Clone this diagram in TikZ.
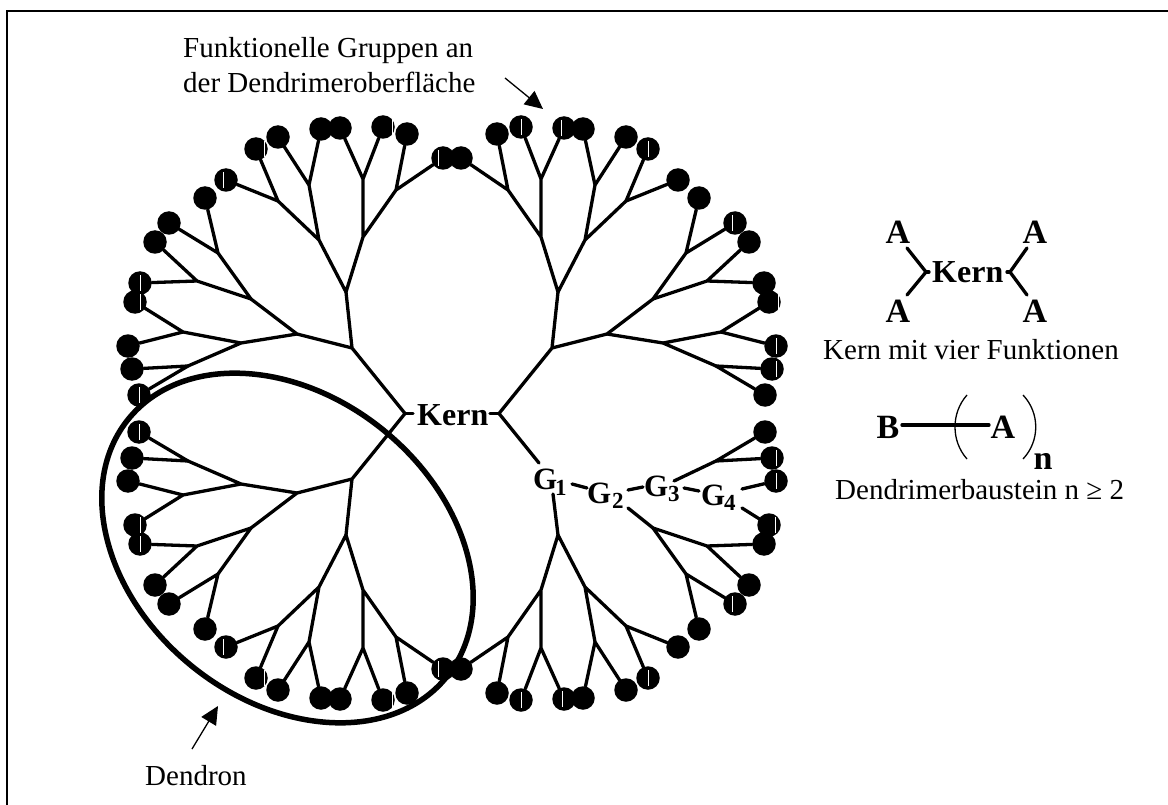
\documentclass[tikz,border=0pt]{standalone}
\usepackage{fontspec}
\setmainfont{Liberation Serif}
\usetikzlibrary{arrows.meta}
\newcommand{\txtsize}{\fontsize{29}{35}\selectfont}
\newcommand{\bigbold}{\fontsize{32}{36}\selectfont\bfseries}
\newcommand{\abold}{\fontsize{34}{36}\selectfont\bfseries}
\newcommand{\glabel}{\fontsize{31}{34}\selectfont\bfseries}
\newcommand{\gsub}{\fontsize{23}{28}\selectfont\bfseries}
% one quadrant of the dendrimer: #1 prefix, #2 xscale, #3 yscale
\newcommand{\quadrantpts}[3]{%
\begin{scope}[shift={(452,413.5)},xscale=#2,yscale=#3,shift={(-452,-413.5)}]
 \coordinate (#1r) at (405,413.5);
 \coordinate (#1J) at (352,348);
 \coordinate (#1U) at (346,292);
 \coordinate (#1L) at (297,334);
 \coordinate (#1a) at (319,240);
 \coordinate (#1b) at (363,237);
 \coordinate (#1c) at (278,201);
 \coordinate (#1d) at (309,185);
 \coordinate (#1e) at (363,179);
 \coordinate (#1f) at (396,190);
 \coordinate (#1p) at (251,299);
 \coordinate (#1q) at (218,253);
 \coordinate (#1v) at (197,281);
 \coordinate (#1s) at (241,343);
 \coordinate (#1t) at (183,332);
 \coordinate (#1u) at (188,366);
 \node[ball] (#1c1) at (226,180) {};
 \node[ball] (#1c2) at (256,149) {};
 \node[ball] (#1c3) at (278,137) {};
 \node[ball] (#1c4) at (321,129) {};
 \node[ball] (#1c5) at (340,128) {};
 \node[ball] (#1c6) at (383,127) {};
 \node[ball] (#1c7) at (407,134) {};
 \node[ball] (#1c8) at (443,158) {};
 \node[ball] (#1c9) at (205,198) {};
 \node[ball] (#1c10) at (169,223) {};
 \node[ball] (#1c11) at (155,242) {};
 \node[ball] (#1c12) at (140,283) {};
 \node[ball] (#1c13) at (135,302) {};
 \node[ball] (#1c14) at (128,346) {};
 \node[ball] (#1c15) at (132,369) {};
 \node[ball] (#1c16) at (139,395) {};
\end{scope}
\draw[bond] (#1U) -- (#1a) (#1U) -- (#1b) (#1a) -- (#1c) (#1a) -- (#1d)
  (#1c) -- (#1c1) (#1c) -- (#1c2) (#1d) -- (#1c3) (#1d) -- (#1c4)
  (#1b) -- (#1e) (#1b) -- (#1f) (#1e) -- (#1c5) (#1e) -- (#1c6)
  (#1f) -- (#1c7) (#1f) -- (#1c8)
  (#1p) -- (#1q) (#1p) -- (#1v) (#1q) -- (#1c9) (#1q) -- (#1c10)
  (#1v) -- (#1c11) (#1v) -- (#1c12)
  (#1u) -- (#1c15) (#1u) -- (#1c16);
}
\newcommand{\quadrantroot}[1]{%
\draw[bond] (#1r) -- (#1J) (#1J) -- (#1U) (#1J) -- (#1L) (#1L) -- (#1p) (#1L) -- (#1s)
  (#1s) -- (#1t) (#1s) -- (#1u) (#1t) -- (#1c13) (#1t) -- (#1c14);
}
\tikzset{
  ball/.style={circle,fill=black,draw=none,minimum size=23.5pt,inner sep=0pt},
  bond/.style={line width=3.3pt,draw=black,line cap=round,line join=round},
  thickbond/.style={line width=3.3pt,draw=black,line cap=round},
  ring/.style={line width=5.5pt,draw=black},
  frameline/.style={line width=1.7pt,draw=black},
  pointer/.style={line width=1.3pt,draw=black,-{Triangle[length=18pt,width=17pt]}},
  paren/.style={line width=1.3pt,draw=black},
  txt/.style={anchor=base west,inner sep=0pt,font=\txtsize},
  bold/.style={anchor=base,inner sep=0pt,font=\abold},
  glab/.style={anchor=base west,inner sep=0pt,font=\glabel},
  gs/.style={anchor=base west,inner sep=0pt,font=\gsub},
}
\begin{document}
\begin{tikzpicture}[x=1pt,y=-1pt]
\useasboundingbox (0,0) rectangle (1168,805);
% frame (open at right and bottom)
\coordinate (fa) at (7,805); \coordinate (fb) at (7,11); \coordinate (fc) at (1168,11);
\draw[frameline] (fa) -- (fb) -- (fc);
% quadrants
\quadrantpts{ul-}{1}{1}
\quadrantpts{ur-}{-1}{1}
\quadrantpts{ll-}{1}{-1}
\quadrantpts{lr-}{-1}{-1}
\quadrantroot{ul-}
\quadrantroot{ur-}
\quadrantroot{ll-}
% the Dendron ellipse
\draw[ring,shift={(287.5,548)},rotate=-39] (0,0) ellipse [x radius=204.8pt,y radius=152pt];
% centre label
\coordinate (kl) at (413,413.5); \coordinate (kr) at (490,413.5);
\node[anchor=base west,inner sep=0pt,font=\bigbold] (kern) at (417,425) {Kern};
\draw[bond] (ul-r) -- (kl) (ur-r) -- (kr);
% stubs of the lower right quadrant, around the G labels
\node[glab] (g1) at (533,489) {G};
\node[gs] (g1s) at (555,495) {1};
\node[glab] (g2) at (587,503) {G};
\node[gs] (g2s) at (612,508) {2};
\node[glab] (g3) at (644,496) {G};
\node[gs] (g3s) at (668,501) {3};
\node[glab] (g4) at (701,505) {G};
\node[gs] (g4s) at (724,510) {4};
\coordinate (s0) at (539,463);
\coordinate (s1a) at (553,494); 
\coordinate (s2a) at (572,484); \coordinate (s2b) at (587,488);
\coordinate (s3a) at (628,490); \coordinate (s3b) at (643,487);
\coordinate (s4a) at (684,488); \coordinate (s4b) at (699,491);
\coordinate (s5a) at (674,481);
\coordinate (s6a) at (742,489);
\coordinate (s7a) at (742,508);
\coordinate (s8a) at (628,508);
\draw[bond] (lr-r) -- (s0) (s1a) -- (lr-U) (s2a) -- (s2b) (s3a) -- (s3b) (s4a) -- (s4b)
  (s5a) -- (lr-u) (s6a) -- (lr-c14) (s7a) -- (lr-c13) (s8a) -- (lr-p);
% white seams in some of the balls
\foreach \n/\d in {ul-c1/-3,ul-c2/8,ul-c6/9,ul-c8/-5,ul-c12/0,ul-c13/5,ul-c16/0,
  ur-c5/-3,ur-c6/0,ur-c2/0,ur-c10/-3,ur-c13/9,ur-c14/0,ur-c15/4,
  ll-c16/0,ll-c13/5,ll-c12/0,ll-c1/-3,ll-c2/8,ll-c6/9,ll-c8/-5,
  lr-c15/4,lr-c14/0,lr-c13/6,lr-c10/-3,lr-c2/0,lr-c6/0,lr-c5/-2}
  \fill[white] ([xshift=\d pt,yshift=-8pt]\n.center) rectangle ([xshift=\d pt+0.7pt,yshift=8pt]\n.center);
% top label and arrow
\node[txt] (t1) at (183,58) {Funktionelle Gruppen an};
\node[txt] (t2) at (183,93) {der Dendrimeroberfl\"ache};
\coordinate (a1s) at (505,78); \coordinate (a1e) at (543,109);
\draw[pointer] (a1s) -- (a1e);
% bottom label and arrow
\node[txt] (t3) at (145,785) {Dendron};
\coordinate (a2s) at (192,749); \coordinate (a2e) at (218,706);
\draw[pointer] (a2s) -- (a2e);
% core with four functions
\node[bold] (A1) at (898,244) {A};
\node[bold] (A2) at (1035,244) {A};
\node[bold] (A3) at (898,323) {A};
\node[bold] (A4) at (1035,323) {A};
\node[anchor=base west,inner sep=0pt,font=\bigbold] (kern2) at (932,283) {Kern};
\coordinate (l1) at (907,248); \coordinate (l2) at (926,272); \coordinate (l3) at (907,295);
\coordinate (r1) at (1027,248); \coordinate (r2) at (1010,272); \coordinate (r3) at (1027,295);
\draw[thickbond] (l1) -- (l2) -- (l3);
\draw[thickbond] (r1) -- (r2) -- (r3);
\coordinate (l2t) at (929,272); \coordinate (r2t) at (1007,272);
\draw[thickbond] (l2) -- (l2t) (r2) -- (r2t);
\node[txt] (t4) at (823,359) {Kern mit vier Funktionen};
% building block
\node[bold] (B) at (888,438) {B};
\node[bold] (Ab) at (1003,438) {A};
\node[bold] (nn) at (1043,469) {n};
\coordinate (bs) at (902,425); \coordinate (be) at (989,425);
\draw[thickbond] (bs) -- (be);
\coordinate (p1) at (967,395); \coordinate (p2) at (967,459);
\coordinate (p3) at (1023,395); \coordinate (p4) at (1023,459);
\draw[paren] (p1) .. controls (951,413) and (951,441) .. (p2);
\draw[paren] (p3) .. controls (1040,413) and (1040,441) .. (p4);
\node[txt] (t5) at (835,499) {Dendrimerbaustein n ≥ 2};
\end{tikzpicture}
\end{document}
